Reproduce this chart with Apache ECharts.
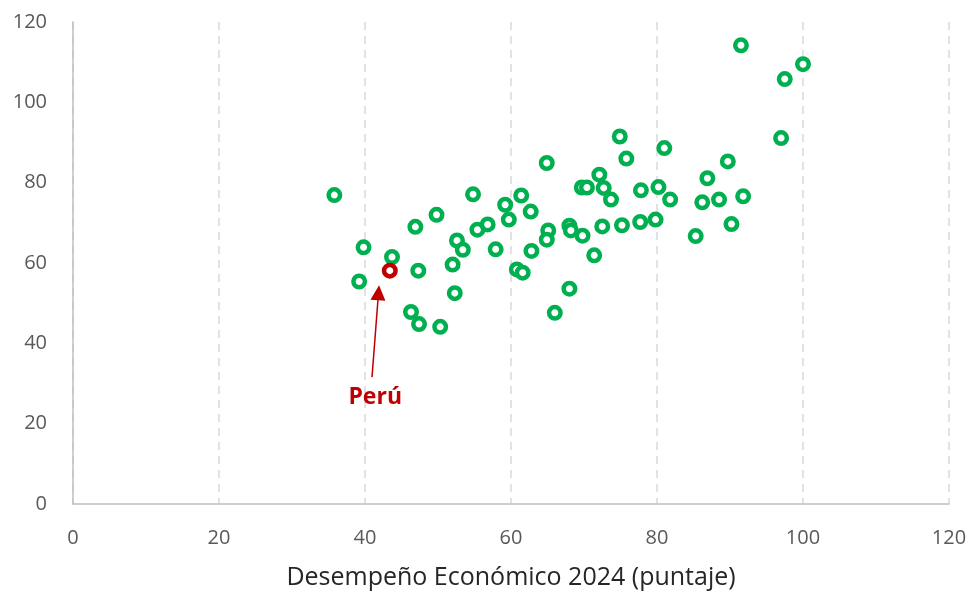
<!DOCTYPE html>
<html>
<head>
<meta charset="utf-8">
<script src="https://cdn.jsdelivr.net/npm/echarts@6/dist/echarts.min.js"></script>
<style>
  html, body { margin: 0; padding: 0; background: #fff; }
  #mainChart { width: 971px; height: 595px; }
</style>
</head>
<body>
<div id="mainChart"></div>
<script>
// desempeño económico (x) vs eje y, un punto por país
var puntajeX = [35.8, 39.8, 39.2, 43.7, 46.9, 47.3, 46.3, 47.4, 49.8, 50.3,
                52.0, 52.3, 52.6, 53.4, 54.8, 55.4, 56.8, 57.9, 59.2, 59.7,
                61.4, 62.7, 60.8, 61.6, 62.8, 64.9, 65.1, 64.9, 66.0, 68.0,
                68.2, 68.0, 69.7, 70.4, 69.8, 71.4, 72.1, 72.7, 73.7, 72.5,
                74.9, 75.8, 75.2, 77.7, 77.8, 79.8, 80.2, 81.0, 81.8, 85.3,
                86.2, 86.9, 88.5, 89.7, 90.2, 91.8, 91.5, 97.0, 97.5, 100.0];
var puntajeY = [76.9, 63.9, 55.4, 61.5, 69.0, 58.1, 47.8, 44.8, 72.0, 44.1,
                59.6, 52.5, 65.6, 63.3, 77.1, 68.3, 69.6, 63.4, 74.5, 70.8,
                76.8, 72.8, 58.4, 57.6, 63.0, 84.9, 68.1, 65.8, 47.6, 69.3,
                68.1, 53.6, 78.8, 78.8, 66.8, 61.9, 82.0, 78.7, 75.8, 69.1,
                91.5, 86.0, 69.4, 70.2, 78.1, 70.8, 78.9, 88.6, 75.8, 66.7,
                75.1, 81.1, 75.8, 85.3, 69.7, 76.6, 114.2, 91.1, 105.8, 109.5];
var peru = [43.4, 58.1];
var flechaInicio = [40.96, 31.6];
var flechaFin = [41.85, 52.6];
var etiquetaPeru = [41.4, 26.6];
var ticksX = [0, 20, 40, 60, 80, 100, 120];

var otros = [];
for (var i = 0; i < puntajeX.length; i++) {
    otros.push([puntajeX[i], puntajeY[i]]);
}

var chart = echarts.init(document.getElementById('mainChart'));

var fuente = 'Open Sans';

var option = {
    animation: false,
    textStyle: { fontFamily: fuente },
    grid: { left: 73, right: 22, top: 22, bottom: 89 },
    xAxis: {
        type: 'value',
        min: ticksX[0],
        max: ticksX[ticksX.length - 1],
        interval: 20,
        name: 'Desempeño Económico 2024 (puntaje)',
        nameLocation: 'middle',
        nameGap: 61,
        nameTextStyle: { fontSize: 25, color: '#262626', fontFamily: fuente },
        axisLine: { lineStyle: { color: '#bfbfbf', width: 1.5 } },
        axisTick: { show: false },
        axisLabel: { fontSize: 20, color: '#595959', margin: 24, fontFamily: fuente },
        splitLine: {
            show: true,
            lineStyle: { color: '#d9d9d9', width: 1.5, type: [8, 6] }
        }
    },
    yAxis: {
        type: 'value',
        min: 0,
        max: 120,
        interval: 20,
        axisLine: { show: true, lineStyle: { color: '#bfbfbf', width: 1.5 } },
        axisTick: { show: false },
        axisLabel: { fontSize: 20, color: '#595959', margin: 26, fontFamily: fuente },
        splitLine: { show: false }
    },
    series: [
        {
            name: 'Países',
            type: 'scatter',
            data: otros,
            symbol: 'circle',
            symbolSize: 11.5,
            itemStyle: { color: '#ffffff', borderColor: '#00b050', borderWidth: 4.5, opacity: 1 }
        },
        {
            name: 'Perú',
            type: 'scatter',
            data: [peru],
            symbol: 'circle',
            symbolSize: 11.5,
            z: 3,
            itemStyle: { color: '#ffffff', borderColor: '#c00000', borderWidth: 4.5, opacity: 1 },
            markLine: {
                silent: true,
                symbol: ['none', 'triangle'],
                symbolSize: [15, 15],
                lineStyle: { color: '#c00000', width: 1.5, type: 'solid', opacity: 1 },
                itemStyle: { color: '#c00000' },
                label: { show: false },
                data: [[{ coord: flechaInicio }, { coord: flechaFin }]]
            },
            markPoint: {
                silent: true,
                symbol: 'circle',
                symbolSize: 0,
                label: {
                    show: true,
                    formatter: 'Perú',
                    color: '#c00000',
                    fontSize: 23,
                    fontWeight: 'bold',
                    fontFamily: fuente
                },
                data: [{ coord: etiquetaPeru }]
            }
        }
    ]
};

chart.setOption(option);
</script>
</body>
</html>
